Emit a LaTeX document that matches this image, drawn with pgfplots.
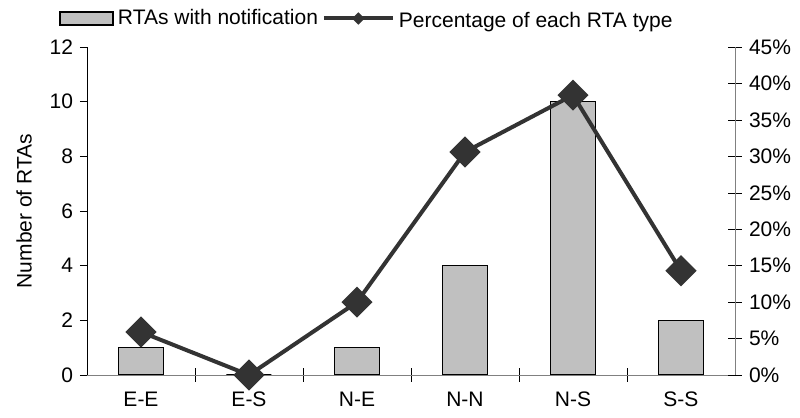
\documentclass[border=0pt]{standalone}
\usepackage{pgfplots}
\pgfplotsset{compat=1.18}
\usepackage{fontspec}
\setmainfont{Liberation Sans}

\definecolor{barfill}{HTML}{C0C0C0}
\definecolor{linedark}{HTML}{333333}
\definecolor{axisgray}{HTML}{808080}

\newcommand{\chartfont}{\fontsize{10.5}{12.6}\selectfont}

\pgfplotsset{
  base/.style={
    scale only axis,
    width=324pt, height=164pt,
    xmin=-0.5, xmax=5.5,
    /pgf/number format/assume math mode=true,
    tick label style={font=\chartfont},
    label style={font=\chartfont},
    legend style={font=\chartfont},
  },
  barlegend/.style={
    legend image code/.code={\draw[##1] (0pt,-3.25pt) rectangle (26.5pt,3.25pt);}},
  linelegend/.style={
    legend image code/.code={
      \draw[##1, mark repeat=2, mark phase=2]
        plot coordinates {(0pt,0pt) (17.25pt,0pt) (34.5pt,0pt)};}},
}

\begin{document}
\begin{tikzpicture}
\path[use as bounding box] (0,0) rectangle (400pt,209pt);

% counts (left axis)
\begin{axis}[base,
  at={(43.5pt,21.5pt)}, anchor=south west,
  ymin=0, ymax=12, ytick={0,2,...,12},
  axis x line*=bottom, axis y line*=left,
  x axis line style={axisgray, -},
  y axis line style={black, -},
  xtick={0,...,5},
  xticklabels={E-E,E-S,N-E,N-N,N-S,S-S},
  major x tick style={draw=none},
  minor xtick={0.5,1.5,...,4.5},
  minor x tick style={black},
  minor tick length=7pt,
  xtick align=center,
  ytick align=outside,
  major tick length=3.5pt,
  ytick style={black},
  xticklabel style={yshift=-3pt},
  ylabel={Number of RTAs},
  ylabel style={yshift=2pt},
  legend columns=2,
  legend style={draw=none, fill=none, at={(0,1)}, anchor=west,
    xshift=-14pt, yshift=13.5pt, inner sep=0pt,
    /tikz/every even column/.append style={column sep=0pt}},
]
\addplot[ybar, bar width=22.5pt, fill=barfill, draw=black, line width=0.8pt, barlegend]
  coordinates {(0,1) (1,0) (2,1) (3,4) (4,10) (5,2)};
\addlegendentry{RTAs with notification}
\addlegendimage{linedark, line width=2pt, mark=square*,
  mark options={rotate=45, scale=0.6, solid}, linelegend}
\addlegendentry[yshift=-1.5pt]{Percentage of each RTA type}
\end{axis}

% percentages (right axis)
\begin{axis}[base,
  at={(43.5pt,21.5pt)}, anchor=south west,
  ymin=0, ymax=45, ytick={0,5,...,45},
  yticklabel={\pgfmathprintnumber{\tick}\%},
  axis y line*=right, hide x axis,
  y axis line style={axisgray, -},
  ytick style={black},
  ytick align=center,
  major tick length=7pt,
  clip=false,
]
\addplot[linedark, line width=2pt, mark=square*,
  mark options={rotate=45, solid}, mark size=4.5pt]
  coordinates {(0,5.9) (1,0) (2,10.0) (3,30.6) (4,38.4) (5,14.3)};
\end{axis}
\end{tikzpicture}
\end{document}
